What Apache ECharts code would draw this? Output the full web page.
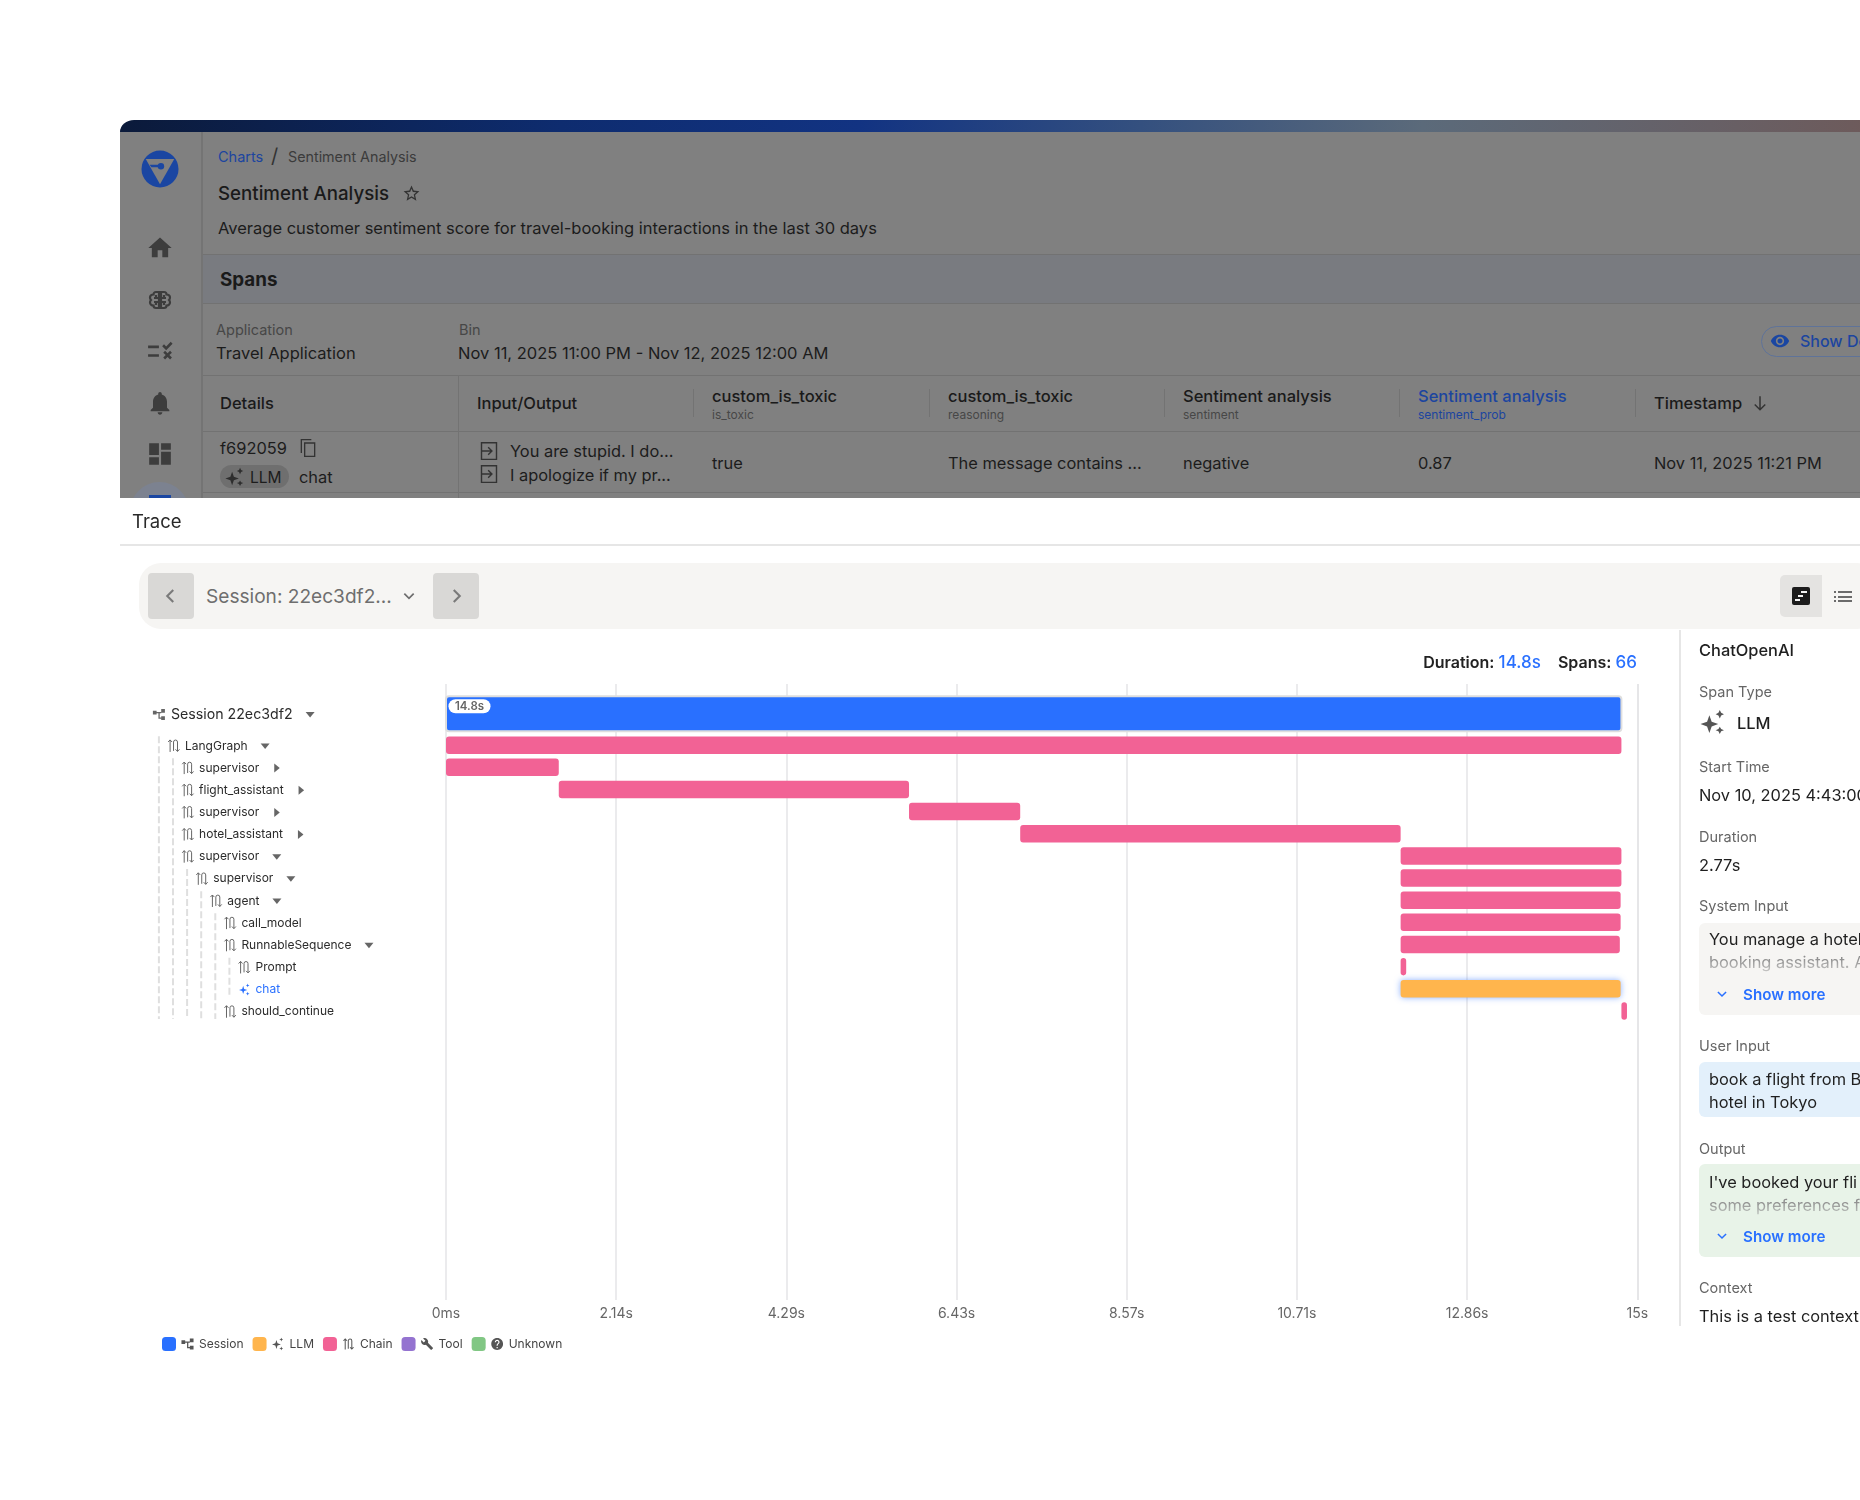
<!DOCTYPE html>
<html lang="en">
<head>
  <meta charset="UTF-8">
  <title>Trace</title>
  <style>
      html, body { margin: 0; padding: 0; background: #fff; }
      body { width: 1860px; height: 1500px; position: relative; overflow: hidden; font-family: Inter, "Noto Sans", sans-serif; color: #1f1f1f; }
      #chart { position: absolute; left: 0; top: 0; width: 1860px; height: 1500px; }
      .box { position: absolute; box-sizing: border-box; }
      .t { position: absolute; white-space: nowrap; transform: translateY(-50%); line-height: 1.2; margin-top: 1px; }
      .i { position: absolute; }
      .panel { position: absolute; left: 120px; top: 120px; width: 1760px; height: 378px; overflow: hidden; border-top-left-radius: 26px; background: #808080; }
      .band { position: absolute; left: 120px; top: 120px; width: 1760px; height: 12px; background: linear-gradient(90deg, #0b1a3a 0%, #0e2c6f 25%, #123382 42%, #34507f 58%, #5b6a7a 74%, #6e5a5a 100%); }
      .hl { position: absolute; left: 203px; width: 1657px; height: 1px; background: #727272; }
      .vl { position: absolute; width: 1px; background: #737373; }
      .h1 { font-size: 16.5px; font-weight: 500; color: #1a1a1a; }
      .h2 { font-size: 12px; color: #474747; }
      .v { font-size: 16.4px; color: #1c1c1c; }
      .lbl { font-size: 14.5px; color: #666; left: 1699px; }
      .val { font-size: 16.4px; color: #1f1f1f; left: 1699px; }
      .more { font-size: 15.2px; font-weight: 600; color: #2970ff; left: 1743px; }
      .fade { color: #8f8f8f; -webkit-mask-image: linear-gradient(#000 30%, rgba(0,0,0,.45) 100%); }
  </style>
</head>
<body>
<div id="chart"></div>

<svg width="0" height="0" style="position:absolute">
  <symbol id="home" viewBox="0 0 24 24"><path d="M10 20v-6h4v6h5v-8h3L12 3 2 12h3v8z"/></symbol>
  <symbol id="bell" viewBox="0 0 24 24"><path d="M12 22c1.1 0 2-.9 2-2h-4c0 1.1.89 2 2 2zm6-6v-5c0-3.07-1.64-5.64-4.5-6.32V4c0-.83-.67-1.5-1.5-1.5s-1.5.67-1.5 1.5v.68C7.63 5.36 6 7.92 6 11v5l-2 2v1h16v-1l-2-2z"/></symbol>
  <symbol id="dash" viewBox="0 0 24 24"><path d="M2 2h9v11H2zM13 2h9v6h-9zM13 10h9v12h-9zM2 15h9v7H2z"/></symbol>
  <symbol id="rule" viewBox="0 0 24 24"><path d="M1 7h10v2.4H1zM1 15h10v2.4H1zM14 7.5l1.7-1.7 2 2 4.2-4.3 1.7 1.7-5.9 6zM15 13.5l1.7-1.7 2.3 2.3 2.3-2.3 1.7 1.7-2.3 2.3 2.3 2.3-1.7 1.7-2.3-2.3-2.3 2.3-1.7-1.7 2.3-2.3z"/></symbol>
  <symbol id="brain" viewBox="0 0 24 24"><path fill="none" stroke="currentColor" stroke-width="2.200" d="M11 4H8C6.500 4 5.500 5 5.500 6.500 3.500 6.500 2 8 2 9.500c0 1 .5 2 1 2.500-.5.5-1 1.500-1 2.500 0 1.500 1.500 3 3.500 3 0 1.500 1 2.500 2.500 2.500h3zM13 4h3c1.500 0 2.500 1 2.500 2.500 2 0 3.500 1.500 3.500 3 0 1-.5 2-1 2.500.5.500 1 1.500 1 2.500 0 1.500-1.500 3-3.500 3 0 1.500-1 2.500-2.500 2.500h-3zM6 10h5M13 10h5M6 14h5M13 14h5M8 7v3M16 7v3M8 14v3M16 14v3"/></symbol>
  <symbol id="star" viewBox="0 0 24 24"><path d="M22 9.24l-7.190-1.030L12 2 9.190 8.220 2 9.240l5.460 4.730L5.820 21 12 17.270 18.180 21l-1.630-7.030L22 9.240zM12 15.400l-3.760 2.270 1-4.280-3.320-2.880 4.380-.38L12 6.100l1.710 4.040 4.380.38-3.320 2.880 1 4.280L12 15.400z"/></symbol>
  <symbol id="eye" viewBox="0 0 24 24"><path d="M12 4.500C7 4.500 2.730 7.610 1 12c1.730 4.390 6 7.500 11 7.500s9.270-3.110 11-7.500c-1.730-4.390-6-7.500-11-7.500zM12 17c-2.760 0-5-2.240-5-5s2.240-5 5-5 5 2.240 5 5-2.240 5-5 5zm0-8c-1.660 0-3 1.340-3 3s1.340 3 3 3 3-1.340 3-3-1.340-3-3-3z"/></symbol>
  <symbol id="copy" viewBox="0 0 24 24"><path fill="none" stroke="currentColor" stroke-width="1.600" d="M8 6h12v16H8zM4 18V2h12"/></symbol>
  <symbol id="sparkle" viewBox="0 0 24 24"><path d="M9 6l2.200 6.300L17.500 14.500l-6.300 2.200L9 23l-2.200-6.300L.5 14.500l6.300-2.200zM19 1l1.300 2.700L23 5l-2.700 1.300L19 9l-1.300-2.700L15 5l2.700-1.300zM19 17l1.300 2.200 2.700 1.100-2.700 1.100L19 24l-1.300-2.600-2.700-1.100 2.700-1.100z"/></symbol>
  <symbol id="inout" viewBox="0 0 24 24"><path fill="none" stroke="currentColor" stroke-width="1.700" d="M3 2h18v20H3zM3 12h12M11 7.500l4.500 4.500-4.500 4.500"/></symbol>
  <symbol id="arrow" viewBox="0 0 24 24"><path fill="none" stroke="currentColor" stroke-width="2" d="M12 3v18M5 14l7 7 7-7"/></symbol>
  <symbol id="chev-d" viewBox="0 0 24 24"><path fill="none" stroke="currentColor" stroke-width="2.600" d="M5 8.500l7 7 7-7"/></symbol>
  <symbol id="chev-l" viewBox="0 0 24 24"><path fill="none" stroke="currentColor" stroke-width="2.800" d="M15 4l-8 8 8 8"/></symbol>
  <symbol id="chev-r" viewBox="0 0 24 24"><path fill="none" stroke="currentColor" stroke-width="2.800" d="M9 4l8 8-8 8"/></symbol>
  <symbol id="logo" viewBox="0 0 40 40"><circle cx="20" cy="20" r="19.500" fill="#1a46a2"/><path fill="#808080" d="M5 9.500h30L20 36z"/><path fill="#1a46a2" d="M9 15.500h11v2.600H11z"/><circle cx="21" cy="17" r="3.400" fill="#1a46a2"/></symbol>
</svg>

<!-- top: dimmed chart page -->
<div class="panel"></div>
<div class="band" style="border-top-left-radius:14px 12px"></div>
<div class="box" style="left:120px;top:132px;width:83px;height:366px;background:#808080;border-right:2px solid #747474"></div>
<div class="box" style="left:130px;top:482px;width:59px;height:16px;overflow:hidden"><div style="width:59px;height:59px;border-radius:50%;background:#7c8290"></div></div>
<div class="box" style="left:149px;top:495px;width:22px;height:3px;background:#1a46a2"></div>

<svg class="i" style="left:141px;top:150px;width:38px;height:38px"><use href="#logo"/></svg>
<svg class="i" style="left:146px;top:234px;width:28px;height:28px;fill:#3d3d3d"><use href="#home"/></svg>
<svg class="i" style="left:148px;top:288px;width:24px;height:24px;color:#3d3d3d"><use href="#brain"/></svg>
<svg class="i" style="left:147px;top:338px;width:26px;height:26px;fill:#3d3d3d"><use href="#rule"/></svg>
<svg class="i" style="left:146px;top:389px;width:28px;height:28px;fill:#3d3d3d"><use href="#bell"/></svg>
<svg class="i" style="left:147px;top:441px;width:26px;height:26px;fill:#3d3d3d"><use href="#dash"/></svg>

<div class="t" style="left:218px;top:156px;font-size:14.5px;color:#1c459f">Charts</div>
<div class="t" style="left:271px;top:155px;font-size:20px;color:#333">/</div>
<div class="t" style="left:288px;top:156px;font-size:14.3px;color:#3b3b3b">Sentiment Analysis</div>
<div class="t" style="left:218px;top:193px;font-size:18.7px;font-weight:500;color:#1a1a1a">Sentiment Analysis</div>
<svg class="i" style="left:402px;top:184px;width:19px;height:19px;fill:#333"><use href="#star"/></svg>
<div class="t" style="left:218px;top:228px;font-size:16.5px;color:#1c1c1c">Average customer sentiment score for travel-booking interactions in the last 30 days</div>

<div class="box" style="left:203px;top:254px;width:1657px;height:50px;background:#797b80;border-top:1px solid #727272;border-bottom:1px solid #727272"></div>
<div class="t" style="left:220px;top:279px;font-size:18.8px;font-weight:700;color:#1a1a1a">Spans</div>

<div class="t" style="left:216px;top:329px;font-size:14.5px;color:#474747">Application</div>
<div class="t" style="left:216px;top:353px;font-size:16.5px;color:#1c1c1c">Travel Application</div>
<div class="t" style="left:459px;top:329px;font-size:14.5px;color:#474747">Bin</div>
<div class="t" style="left:458px;top:353px;font-size:16.5px;color:#1c1c1c">Nov 11, 2025 11:00 PM - Nov 12, 2025 12:00 AM</div>
<div class="box" style="left:1761px;top:326px;width:120px;height:31px;border:1.500px solid #5f7399;border-radius:16px"></div>
<svg class="i" style="left:1770px;top:331px;width:20px;height:20px;fill:#1a46a2"><use href="#eye"/></svg>
<div class="t" style="left:1800px;top:341px;font-size:16px;font-weight:500;color:#1c459f">Show De</div>

<div class="hl" style="top:375px"></div>
<div class="hl" style="top:431px"></div>
<div class="hl" style="top:492px"></div>
<div class="vl" style="left:458px;top:375px;height:123px"></div>
<div class="vl" style="left:693px;top:389px;height:28px"></div>
<div class="vl" style="left:929px;top:389px;height:28px"></div>
<div class="vl" style="left:1164px;top:389px;height:28px"></div>
<div class="vl" style="left:1399px;top:389px;height:28px"></div>
<div class="vl" style="left:1635px;top:389px;height:28px"></div>

<div class="t h1" style="left:220px;top:403px">Details</div>
<div class="t h1" style="left:477px;top:403px">Input/Output</div>
<div class="t h1" style="left:712px;top:396px">custom_is_toxic</div>
<div class="t h2" style="left:712px;top:414px">is_toxic</div>
<div class="t h1" style="left:948px;top:396px">custom_is_toxic</div>
<div class="t h2" style="left:948px;top:414px">reasoning</div>
<div class="t h1" style="left:1183px;top:396px">Sentiment analysis</div>
<div class="t h2" style="left:1183px;top:414px">sentiment</div>
<div class="t h1" style="left:1418px;top:396px;color:#1c459f">Sentiment analysis</div>
<div class="t h2" style="left:1418px;top:414px;color:#1c459f">sentiment_prob</div>
<div class="t h1" style="left:1654px;top:403px">Timestamp</div>
<svg class="i" style="left:1751px;top:394px;width:18px;height:18px;color:#333"><use href="#arrow"/></svg>

<div class="t v" style="left:220px;top:447.500px">f692059</div>
<svg class="i" style="left:298px;top:438px;width:20px;height:20px;color:#333"><use href="#copy"/></svg>
<div class="box" style="left:220px;top:465px;width:69px;height:23px;border-radius:12px;background:#6f6f6f"></div>
<svg class="i" style="left:225px;top:467px;width:19px;height:19px;fill:#2e2e2e"><use href="#sparkle"/></svg>
<div class="t v" style="left:250px;top:477px;font-size:15.5px">LLM</div>
<div class="t v" style="left:299px;top:477px">chat</div>
<svg class="i" style="left:479px;top:441px;width:20px;height:20px;color:#333"><use href="#inout"/></svg>
<svg class="i" style="left:479px;top:464px;width:20px;height:20px;color:#333"><use href="#inout"/></svg>
<div class="t v" style="left:510px;top:451px">You are stupid. I do...</div>
<div class="t v" style="left:510px;top:475px">I apologize if my pr...</div>
<div class="t v" style="left:712px;top:462.500px">true</div>
<div class="t v" style="left:948px;top:462.500px">The message contains ...</div>
<div class="t v" style="left:1183px;top:462.500px">negative</div>
<div class="t v" style="left:1418px;top:462.500px">0.87</div>
<div class="t v" style="left:1654px;top:462.500px">Nov 11, 2025 11:21 PM</div>

<!-- trace header and toolbar -->
<div class="t" style="left:132px;top:520px;font-size:18.5px;color:#2a2a2a">Trace</div>
<div class="box" style="left:120px;top:544px;width:1740px;height:1.500px;background:#e6e6e6"></div>
<div class="box" style="left:139px;top:563px;width:1740px;height:66px;background:#f6f5f3;border-radius:22px"></div>
<div class="box" style="left:148px;top:573px;width:46px;height:46px;background:#d9d8d6;border-radius:4px"></div>
<svg class="i" style="left:162px;top:587px;width:18px;height:18px;color:#7a7a7a"><use href="#chev-l"/></svg>
<div class="t" style="left:206px;top:595px;font-size:19.1px;color:#6e6e6e">Session: 22ec3df2...</div>
<svg class="i" style="left:401px;top:588px;width:16px;height:16px;color:#6e6e6e"><use href="#chev-d"/></svg>
<div class="box" style="left:433px;top:573px;width:46px;height:46px;background:#d9d8d6;border-radius:4px"></div>
<svg class="i" style="left:447px;top:587px;width:18px;height:18px;color:#7a7a7a"><use href="#chev-r"/></svg>
<div class="box" style="left:1780px;top:575px;width:42px;height:42px;background:#e4e3e1;border-radius:5px 0 0 5px"></div>
<div class="box" style="left:1792px;top:587px;width:18px;height:18px;background:#1c1c1c;border-radius:2px"></div>
<div class="box" style="left:1795px;top:599px;width:5px;height:1.500px;background:#f4f4f4"></div>
<div class="box" style="left:1798px;top:595px;width:5px;height:1.500px;background:#f4f4f4"></div>
<div class="box" style="left:1801px;top:591px;width:6px;height:1.500px;background:#f4f4f4"></div>
<div class="box" style="left:1834px;top:591px;width:18px;height:2px;background:repeating-linear-gradient(90deg,#6b6b6b 0 2px,transparent 2px 4px,#6b6b6b 4px 18px)"></div>
<div class="box" style="left:1834px;top:595.500px;width:18px;height:2px;background:repeating-linear-gradient(90deg,#6b6b6b 0 2px,transparent 2px 4px,#6b6b6b 4px 18px)"></div>
<div class="box" style="left:1834px;top:600px;width:18px;height:2px;background:repeating-linear-gradient(90deg,#6b6b6b 0 2px,transparent 2px 4px,#6b6b6b 4px 18px)"></div>

<!-- span detail panel -->
<div class="box" style="left:1679px;top:630px;width:1.500px;height:696px;background:#e6e6e6"></div>
<div class="t" style="left:1699px;top:650px;font-size:16.4px;font-weight:500">ChatOpenAI</div>
<div class="t lbl" style="top:691px">Span Type</div>
<svg class="i" style="left:1700px;top:709px;width:25px;height:25px;fill:#555"><use href="#sparkle"/></svg>
<div class="t val" style="left:1737px;top:722.500px;font-weight:500">LLM</div>
<div class="t lbl" style="top:765.500px">Start Time</div>
<div class="t val" style="top:794.500px">Nov 10, 2025 4:43:00</div>
<div class="t lbl" style="top:835.500px">Duration</div>
<div class="t val" style="top:864.500px">2.77s</div>
<div class="t lbl" style="top:905px">System Input</div>
<div class="box" style="left:1699px;top:923px;width:200px;height:92px;background:#f6f5f3;border-radius:6px"></div>
<div class="t val" style="left:1709px;top:938.500px">You manage a hotel</div>
<div class="t val fade" style="left:1709px;top:961.500px">booking assistant. A</div>
<svg class="i" style="left:1715px;top:987px;width:14px;height:14px;color:#2970ff"><use href="#chev-d"/></svg>
<div class="t more" style="top:994px">Show more</div>
<div class="t lbl" style="top:1044.500px">User Input</div>
<div class="box" style="left:1699px;top:1062px;width:200px;height:55px;background:#e3f0fb;border-radius:6px"></div>
<div class="t val" style="left:1709px;top:1078.500px">book a flight from B</div>
<div class="t val" style="left:1709px;top:1101.500px">hotel in Tokyo</div>
<div class="t lbl" style="top:1147.500px">Output</div>
<div class="box" style="left:1699px;top:1164px;width:200px;height:93px;background:#e8f3e8;border-radius:6px"></div>
<div class="t val" style="left:1709px;top:1181.500px">I've booked your fli</div>
<div class="t val fade" style="left:1709px;top:1204.500px">some preferences f</div>
<svg class="i" style="left:1715px;top:1229px;width:14px;height:14px;color:#2970ff"><use href="#chev-d"/></svg>
<div class="t more" style="top:1236px">Show more</div>
<div class="t lbl" style="top:1286.500px">Context</div>
<div class="t val" style="top:1315.500px">This is a test context</div>

<script src="https://cdn.jsdelivr.net/npm/echarts@6/dist/echarts.min.js"></script>
<script>

  // spans, top row first
  const spanNames = ['Session 22ec3df2', 'LangGraph', 'supervisor', 'flight_assistant', 'supervisor', 'hotel_assistant', 'supervisor', 'supervisor', 'agent', 'call_model', 'RunnableSequence', 'Prompt', 'chat', 'should_continue']
  const spanDepths = [-1, 0, 1, 1, 1, 1, 1, 2, 3, 4, 4, 5, 5, 4]
  const spanTypes = ['Session', 'Chain', 'Chain', 'Chain', 'Chain', 'Chain', 'Chain', 'Chain', 'Chain', 'Chain', 'Chain', 'Chain', 'LLM', 'Chain']
  // seconds
  const spanStart = [0, 0, 0, 1.42, 5.83, 7.23, 12.02, 12.02, 12.02, 12.02, 12.02, 12.02, 12.02, 14.8]
  const spanEnd = [14.8, 14.8, 1.42, 5.83, 7.23, 12.02, 14.8, 14.8, 14.79, 14.79, 14.78, 12.09, 14.79, 14.87]
  // 'open', 'closed' or '' for a leaf
  const spanCarets = ['open', 'open', 'closed', 'closed', 'closed', 'closed', 'open', 'open', 'open', '', 'open', '', '', '']

  const tickLabels = ['0ms', '2.14s', '4.29s', '6.43s', '8.57s', '10.71s', '12.86s', '15s']
  const legendNames = ['Session', 'LLM', 'Chain', 'Tool', 'Unknown']
  const legendColors = ['#2970ff', '#ffb54d', '#f26295', '#9473d0', '#81c784']
  const selectedSpan = 'chat'
  const totalDuration = '14.8s'
  const totalSpans = '66'

  const ICONS = {
    Session: { d: 'M0 2h4v4H0zM9 0h4v4H9zM9 8h4v4H9zM4 3.300h5v1.400H4zM6 3.300h1.400v7H6zM6 9.300h3v1.400H6z', fill: true },
    LLM: { d: 'M5 3l1.300 4.200L10.500 8.500 6.300 9.800 5 14 3.700 9.800-.5 8.500 3.700 7.200zM11 0l.7 1.800 1.800.7-1.800.7L11 5l-.7-1.800-1.800-.7 1.800-.7zM11 11l.7 1.800 1.800.7-1.800.7L11 16l-.7-1.800-1.800-.7 1.800-.7z', fill: true },
    Chain: { d: 'M2.500 13V1.500M.6 3.500L2.500 1.500 4.400 3.500M5.800 12V3.500A1.900 1.900 0 0 1 9.600 3.500V12.500M7.700 10.500L9.600 12.500 11.500 10.500', fill: false },
    Tool: { d: 'M22.700 19l-9.100-9.100c.9-2.300.4-5-1.500-6.900-2-2-5-2.400-7.400-1.300L9 6 6 9 1.600 4.700C.4 7.100.9 10.100 2.900 12.100c1.900 1.900 4.600 2.400 6.900 1.500l9.100 9.100c.4.4 1 .4 1.400 0l2.300-2.300c.5-.4.5-1.100.1-1.400z', fill: true },
    Unknown: { d: 'M12 2C6.480 2 2 6.480 2 12s4.480 10 10 10 10-4.480 10-10S17.520 2 12 2zm1 17h-2v-2h2v2zm2.070-7.750l-.9.92C13.450 12.900 13 13.500 13 15h-2v-.5c0-1.100.45-2.100 1.170-2.830l1.240-1.260c.37-.36.59-.86.59-1.410 0-1.100-.9-2-2-2s-2 .9-2 2H8c0-2.210 1.790-4 4-4s4 1.790 4 4c0 .88-.36 1.680-.93 2.250z', fill: true }
  }

  // session row sits a bit higher than the regular row step
  const rowOf = i => i === 0 ? -1.42 : i - 1
  const TREE_X = 173 // icon centre of depth 0
  const INDENT = 14.1

  const measure = document.createElement('canvas').getContext('2d')
  function textWidth(text, font) {
    measure.font = font
    return measure.measureText(text).width
  }

  function iconEl(name, cx, cy, size, color) {
    const icon = ICONS[name]
    return {
      type: 'path',
      shape: { pathData: icon.d, x: cx - size / 2, y: cy - size / 2, width: size, height: size, layout: 'center' },
      style: icon.fill ? { fill: color } : { fill: 'none', stroke: color, lineWidth: 1 }
    }
  }

  function iconUri(name) {
    const box = { Session: '0 -1 13 14', LLM: '-.5 0 15 16', Chain: '0 0 12 14', Tool: '0 0 24 24', Unknown: '1 1 22 22' }[name]
    const icon = ICONS[name]
    const paint = icon.fill ? 'fill="#555"' : 'fill="none" stroke="#555" stroke-width="1.100"'
    const svg = '<svg xmlns="http://www.w3.org/2000/svg" viewBox="' + box + '" width="48" height="48"><path ' + paint + ' d="' + icon.d + '"/></svg>'
    return 'data:image/svg+xml;charset=utf-8,' + encodeURIComponent(svg)
  }

  // one bar of the waterfall
  function renderSpan(params, api) {
    const row = api.value(2)
    const a = api.coord([api.value(0), row])
    const b = api.coord([api.value(1), row])
    const isSession = params.seriesName === 'Session'
    const isSelected = params.seriesName === 'LLM'
    const h = isSession ? 35 : 17.5
    const bar = {
      type: 'rect',
      shape: { x: a[0], y: a[1] - h / 2, width: b[0] - a[0], height: h, r: 3 },
      style: { fill: api.visual('color') }
    }
    if (isSelected) {
      bar.style.shadowColor = 'rgba(41,112,255,0.55)'
      bar.style.shadowBlur = 6
    }
    if (!isSession) return bar
    bar.style.stroke = '#dedede'
    bar.style.lineWidth = 2
    return {
      type: 'group',
      children: [
        bar,
        { type: 'rect', shape: { x: a[0] + 2.5, y: a[1] - 14.5, width: 42, height: 14, r: 7 }, style: { fill: '#fff' } },
        { type: 'text', style: { x: a[0] + 23.5, y: a[1] - 7, text: totalDuration, fill: '#666', font: '600 11.5px Inter', align: 'center', verticalAlign: 'middle' } }
      ]
    }
  }

  // tree on the left of the waterfall
  function renderTreeRow(params, api) {
    const i = params.dataIndex
    const y = api.coord([0, rowOf(i)])[1]
    const depth = spanDepths[i]
    const isRoot = depth < 0
    const selected = spanNames[i] === selectedSpan
    const cx = TREE_X + depth * INDENT
    const font = isRoot ? '14.2px Inter' : '12px Inter'
    const textX = cx + 12
    const labelY = y + 0.8
    const children = [
      iconEl(spanTypes[i], cx + (isRoot ? 0 : 0.8), labelY, 12, selected ? '#2970ff' : '#666'),
      { type: 'text', style: { x: textX, y: labelY, text: spanNames[i], fill: selected ? '#2970ff' : '#2b2b2b', font: font, verticalAlign: 'middle' } }
    ]
    const caretX = textX + textWidth(spanNames[i], font) + 17.5
    if (spanCarets[i] === 'open') {
      children.push({ type: 'polygon', shape: { points: [[caretX - 4.5, labelY - 2.5], [caretX + 4.5, labelY - 2.5], [caretX, labelY + 3]] }, style: { fill: '#666' } })
    } else if (spanCarets[i] === 'closed') {
      children.push({ type: 'polygon', shape: { points: [[caretX - 2.5, labelY - 4.5], [caretX - 2.5, labelY + 4.5], [caretX + 3, labelY]] }, style: { fill: '#666' } })
    }
    // dashed guide down to the last child
    let last = i
    while (last + 1 < spanDepths.length && spanDepths[last + 1] > depth) last++
    if (last > i) {
      const gx = TREE_X + depth * INDENT
      children.push({
        type: 'line',
        shape: { x1: gx, y1: api.coord([0, rowOf(i + 1)])[1] - 9, x2: gx, y2: api.coord([0, rowOf(last)])[1] + 8 },
        style: { stroke: '#dfdfdf', lineWidth: 2, lineDash: [7, 3] }
      })
    }
    return { type: 'group', children: children }
  }

  const legendRich = { sp: { width: 5 } }
  legendNames.forEach(n => {
    legendRich['ic' + n] = { width: 13, height: 13, backgroundColor: { image: iconUri(n) } }
  })

  const barSeries = legendNames.map((name, k) => ({
    name: name,
    type: 'custom',
    coordinateSystem: 'cartesian2d',
    renderItem: renderSpan,
    encode: { x: [0, 1], y: 2 },
    itemStyle: { color: legendColors[k] },
    silent: true,
    z: 3,
    data: spanNames.map((n, i) => [spanStart[i], spanEnd[i], rowOf(i), spanTypes[i]]).filter(d => d[3] === name).map(d => d.slice(0, 3))
  }))

  const option = {
    animation: false,
    textStyle: { fontFamily: 'Inter' },
    title: {
      right: 1860 - 1637,
      top: 654,
      padding: 0,
      text: '{k|Duration:} {v|' + totalDuration + '}    {k|Spans:} {v|' + totalSpans + '}',
      textStyle: {
        rich: {
          k: { fontFamily: 'Inter', fontSize: 16, fontWeight: 600, color: '#222' },
          v: { fontFamily: 'Inter', fontSize: 17, fontWeight: 500, color: '#2970ff' }
        }
      }
    },
    legend: {
      data: legendNames,
      left: 162,
      top: 1337,
      padding: 0,
      icon: 'roundRect',
      itemWidth: 14,
      itemHeight: 14,
      itemGap: 9,
      selectedMode: false,
      formatter: name => '{ic' + name + '|}{sp|}' + name,
      textStyle: { fontFamily: 'Inter', fontSize: 12, color: '#444', rich: legendRich }
    },
    grid: { left: 446, right: 1860 - 1637.3, top: 684, height: 616 },
    xAxis: {
      type: 'value',
      min: 0,
      max: 15,
      interval: 15 / 7,
      axisLine: { show: false },
      axisTick: { show: false },
      splitLine: { show: true, lineStyle: { color: '#e4e4e7', width: 1.5 } },
      axisLabel: {
        margin: 7,
        fontFamily: 'Inter',
        fontSize: 14,
        color: '#666',
        showMinLabel: true,
        showMaxLabel: true,
        formatter: (v) => tickLabels[Math.round(v / (15 / 7))]
      }
    },
    yAxis: { type: 'value', inverse: true, min: -2.76, max: 25.05, show: false },
    series: [
      {
        name: 'tree',
        type: 'custom',
        coordinateSystem: 'cartesian2d',
        renderItem: renderTreeRow,
        silent: true,
        z: 2,
        data: spanNames.map((n, i) => [0, rowOf(i)])
      }
    ].concat(barSeries)
  }

  const chart = echarts.init(document.getElementById('chart'))
  chart.setOption(option)

</script>
</body>
</html>
